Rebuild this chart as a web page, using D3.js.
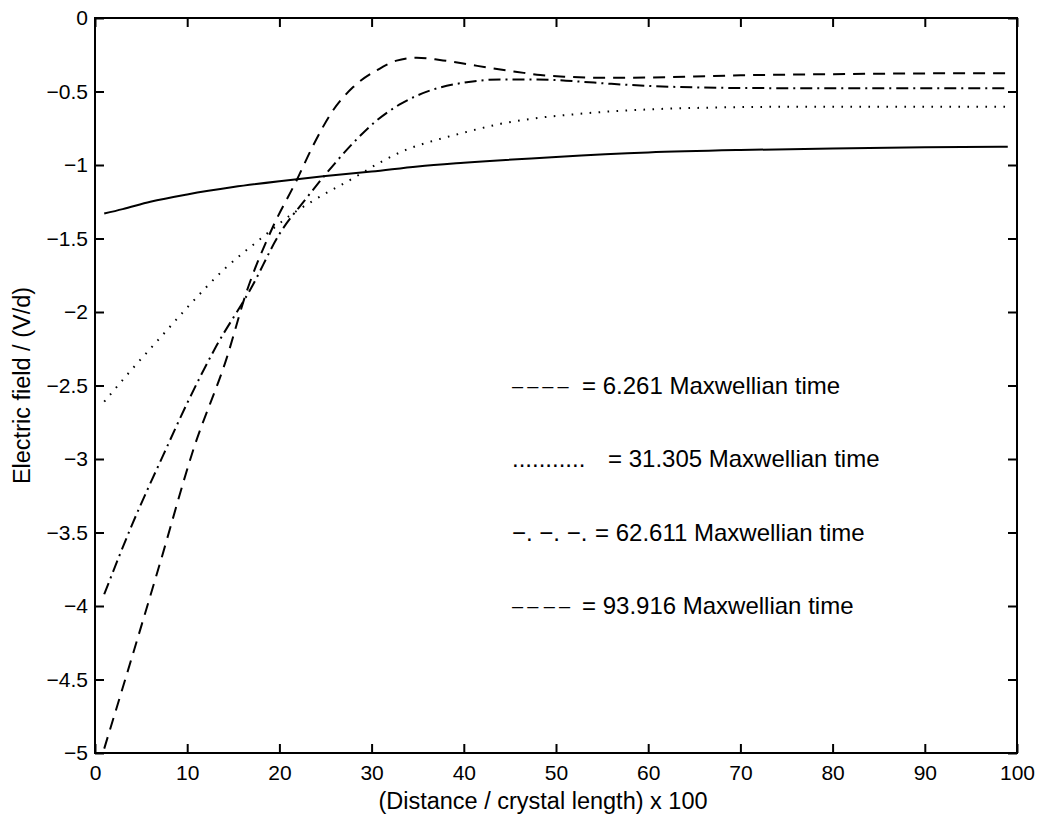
<!DOCTYPE html>
<html>
<head>
<meta charset="utf-8">
<script src="https://cdn.jsdelivr.net/npm/d3@7"></script>
<style>
  body { margin: 0; background: #fff; }
  text { font-family: "Liberation Sans", Arial, Helvetica, sans-serif; fill: #000; }
</style>
</head>
<body>
<div class="canvas"></div>
<script>
const w = 1042;
const h = 815;

// data
const xTicks = [0, 10, 20, 30, 40, 50, 60, 70, 80, 90, 100];
const yTicks = [0, -0.5, -1, -1.5, -2, -2.5, -3, -3.5, -4, -4.5, -5];

const xSolid = [1, 3, 6, 10, 15, 20, 25, 30, 35, 40, 50, 60, 70, 80, 90, 99];
const ySolid = [-1.33, -1.30, -1.25, -1.20, -1.15, -1.11, -1.075, -1.045, -1.01, -0.985, -0.945, -0.915, -0.898, -0.887, -0.88, -0.876];

const xDotted = [1, 4, 7, 10, 14, 18, 21, 24, 28, 31, 34, 37, 40, 44, 48, 52, 56, 60, 65, 70, 80, 90, 99];
const yDotted = [-2.61, -2.39, -2.18, -1.97, -1.71, -1.50, -1.35, -1.23, -1.09, -0.98, -0.89, -0.83, -0.78, -0.72, -0.68, -0.655, -0.635, -0.622, -0.612, -0.606, -0.603, -0.603, -0.603];

const xDashDot = [1, 4, 7.5, 10, 13, 17, 20, 23, 26, 28, 30.5, 33, 36.5, 40, 44, 48, 52, 56, 60, 65, 70, 80, 90, 99];
const yDashDot = [-3.92, -3.45, -2.96, -2.62, -2.25, -1.83, -1.47, -1.22, -0.99, -0.85, -0.70, -0.59, -0.49, -0.44, -0.418, -0.418, -0.43, -0.448, -0.462, -0.472, -0.476, -0.478, -0.478, -0.478];

const xDashed = [1, 4, 7, 10.7, 14.3, 16.4, 19.3, 21.9, 23.6, 25.8, 28, 30.6, 32.7, 34.9, 37.4, 40.3, 42.8, 45.8, 48.3, 51.2, 55, 60, 65, 70, 80, 90, 99];
const yDashed = [-4.97, -4.35, -3.72, -2.93, -2.31, -1.87, -1.42, -1.10, -0.875, -0.63, -0.47, -0.354, -0.29, -0.27, -0.285, -0.313, -0.34, -0.367, -0.388, -0.40, -0.407, -0.405, -0.398, -0.39, -0.382, -0.377, -0.375];

const legendSamples = ["\u2013\u2009\u2013\u2009\u2013\u2009\u2013", "...........", "\u2212. \u2212. \u2212.", "\u2013\u2009\u2013 \u2013\u2009\u2013"];
const legendLabels = ["= 6.261 Maxwellian time", "= 31.305 Maxwellian time", "= 62.611 Maxwellian time", "= 93.916 Maxwellian time"];

const series = [
  { xs: xSolid, ys: ySolid, dash: null },
  { xs: xDotted, ys: yDotted, dash: "1.6,7.4" },
  { xs: xDashDot, ys: yDashDot, dash: "12,5,2,5" },
  { xs: xDashed, ys: yDashed, dash: "12,8" }
];

// plot box
const margin = { top: 18, right: 25, bottom: 62, left: 95 };
const graphWidth = w - margin.left - margin.right;
const graphHeight = h - margin.top - margin.bottom;

const svg = d3.select(".canvas").append("svg").attr("width", w).attr("height", h);
const graph = svg.append("g").attr("transform", `translate(${margin.left}, ${margin.top})`);

const xScale = d3.scaleLinear().domain([0, 100]).range([0, graphWidth]);
const yScale = d3.scaleLinear().domain([-5, 0]).range([graphHeight, 0]);

const fmt = (d) => (d < 0 ? "\u2212" + Math.abs(d) : String(d));

// axes, ticks pointing inward like matlab
const xAxis = d3.axisBottom(xScale).tickValues(xTicks).tickSizeInner(-9).tickSizeOuter(0).tickPadding(12).tickFormat(fmt);
const yAxis = d3.axisLeft(yScale).tickValues(yTicks).tickSizeInner(-9).tickSizeOuter(0).tickPadding(7).tickFormat(fmt);
const xTop = d3.axisTop(xScale).tickValues(xTicks).tickSizeInner(-9).tickSizeOuter(0).tickFormat("");
const yRight = d3.axisRight(yScale).tickValues(yTicks).tickSizeInner(-9).tickSizeOuter(0).tickFormat("");

graph.append("g").attr("id", "x-axis").attr("transform", `translate(0, ${graphHeight})`).call(xAxis);
graph.append("g").attr("id", "y-axis").call(yAxis);
graph.append("g").call(xTop);
graph.append("g").attr("transform", `translate(${graphWidth}, 0)`).call(yRight);

graph.selectAll(".domain").remove();
graph.selectAll(".tick line").attr("stroke", "#000").attr("stroke-width", 2);
graph.selectAll(".tick text").style("font-size", "21px").attr("fill", "#000");

graph.append("rect")
  .attr("width", graphWidth)
  .attr("height", graphHeight)
  .attr("fill", "none")
  .attr("stroke", "#000")
  .attr("stroke-width", 2);

// curves
const line = d3.line().x((d) => xScale(d[0])).y((d) => yScale(d[1])).curve(d3.curveMonotoneX);

series.forEach((s) => {
  graph.append("path")
    .datum(s.xs.map((x, i) => [x, s.ys[i]]))
    .attr("d", line)
    .attr("fill", "none")
    .attr("stroke", "#000")
    .attr("stroke-width", 2)
    .attr("stroke-dasharray", s.dash);
});

// legend text rows, lined up with the -2.5 .. -4 ticks
const labelOffsets = [70, 96, 83, 70];
const sampleSizes = ["20px", "24px", "24px", "20px"];
legendSamples.forEach((s, i) => {
  const y = yScale(-2.5 - 0.5 * i);
  graph.append("text").attr("x", 417).attr("y", y).attr("dy", "0.35em")
    .style("font-size", sampleSizes[i]).text(s);
  graph.append("text").attr("x", 417 + labelOffsets[i]).attr("y", y).attr("dy", "0.35em")
    .style("font-size", "24px").text(legendLabels[i]);
});

// axis titles
svg.append("text")
  .attr("x", 543).attr("y", 801).attr("dy", "0.35em")
  .attr("text-anchor", "middle")
  .style("font-size", "23.5px")
  .text("(Distance / crystal length) x 100");

svg.append("text")
  .attr("transform", `translate(22, ${margin.top + graphHeight / 2}) rotate(-90)`)
  .attr("dy", "0.35em")
  .attr("text-anchor", "middle")
  .style("font-size", "23.5px")
  .text("Electric field / (V/d)");
</script>
</body>
</html>
